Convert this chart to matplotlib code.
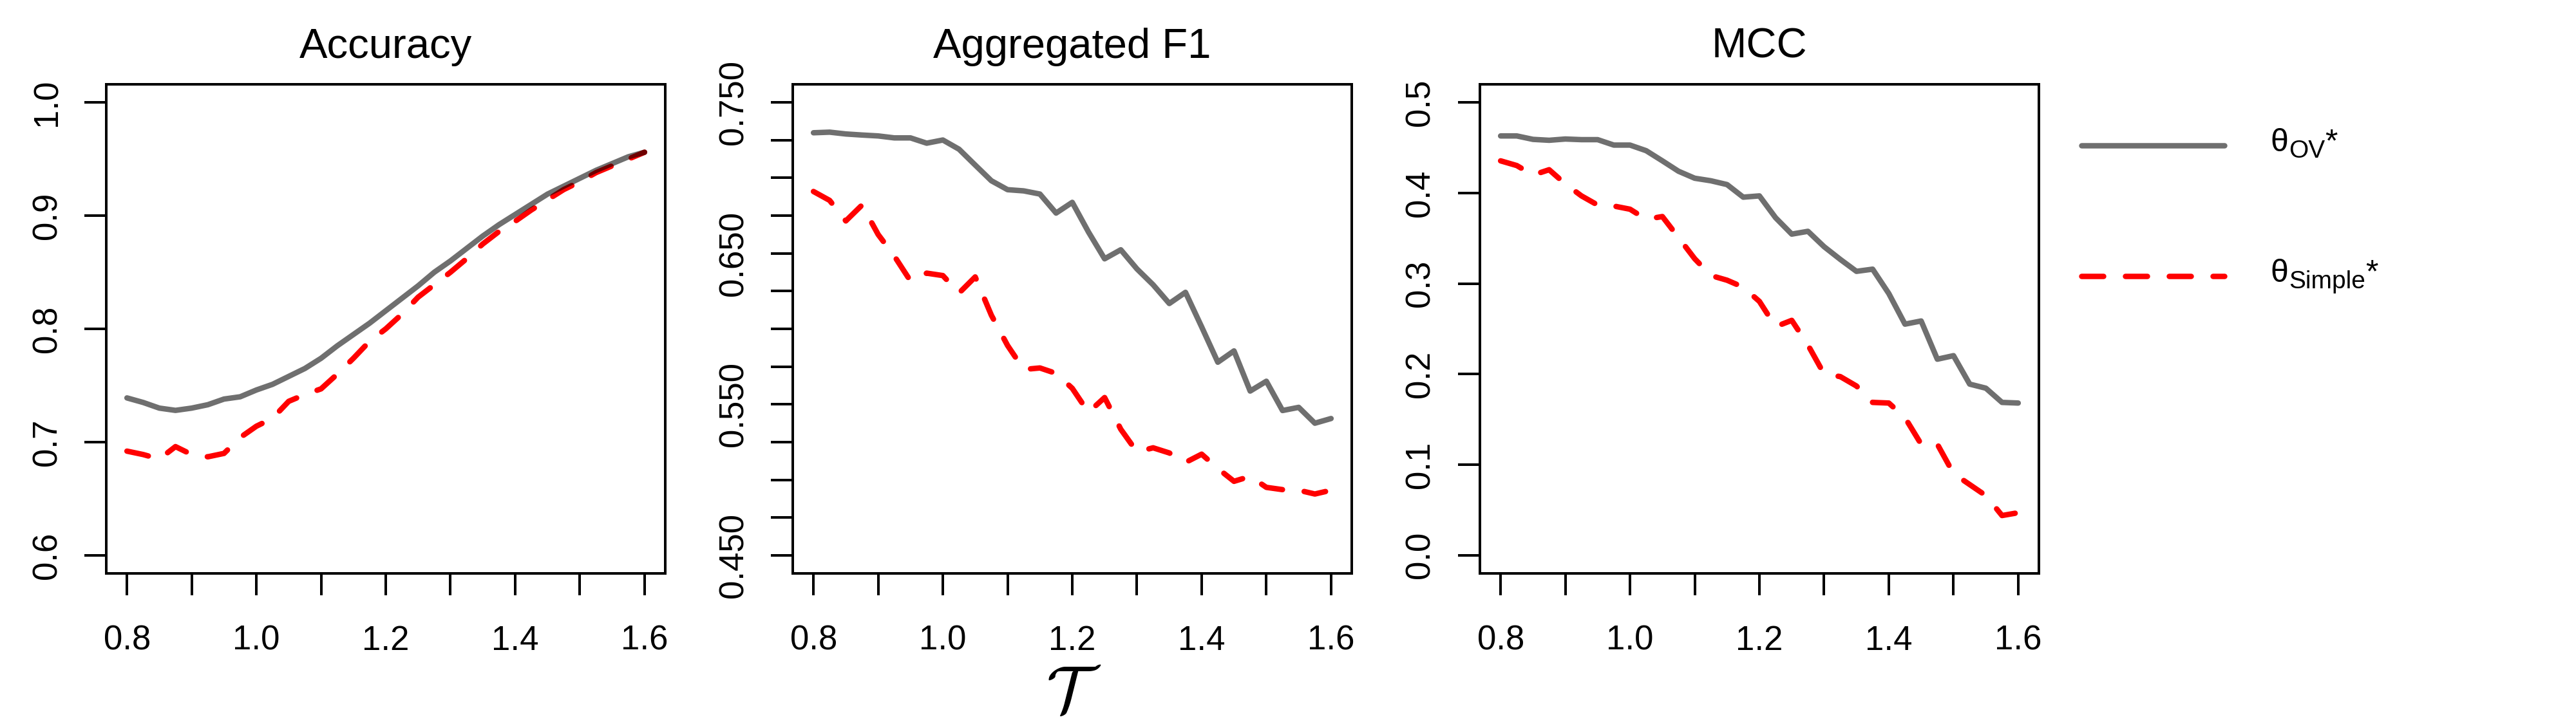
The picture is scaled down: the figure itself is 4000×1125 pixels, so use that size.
import matplotlib
matplotlib.use("Agg")
import matplotlib.pyplot as plt
from matplotlib.lines import Line2D
from matplotlib.ticker import FixedLocator

# ---------------- data ----------------
tau = [0.800, 0.825, 0.850, 0.875, 0.900, 0.925, 0.950, 0.975, 1.000, 1.025, 1.050,
       1.075, 1.100, 1.125, 1.150, 1.175, 1.200, 1.225, 1.250, 1.275, 1.300, 1.325,
       1.350, 1.375, 1.400, 1.425, 1.450, 1.475, 1.500, 1.525, 1.550, 1.575, 1.600]

acc_ov = [0.739, 0.735, 0.730, 0.728, 0.730, 0.733, 0.738, 0.740, 0.746, 0.751, 0.758,
          0.765, 0.774, 0.785, 0.795, 0.805, 0.816, 0.827, 0.838, 0.850, 0.860, 0.871,
          0.882, 0.892, 0.901, 0.910, 0.919, 0.926, 0.933, 0.940, 0.946, 0.952, 0.956]
acc_simple = [0.692, 0.689, 0.685, 0.696, 0.689, 0.687, 0.690, 0.704, 0.714, 0.721, 0.736,
              0.742, 0.747, 0.760, 0.774, 0.789, 0.800, 0.813, 0.828, 0.839, 0.850, 0.862,
              0.875, 0.886, 0.895, 0.905, 0.914, 0.923, 0.930, 0.938, 0.944, 0.950, 0.956]

f1_ov = [0.7299, 0.7303, 0.7291, 0.7284, 0.7278, 0.7265, 0.7265, 0.7230, 0.7251, 0.7190, 0.7085,
         0.6981, 0.6922, 0.6914, 0.6893, 0.6767, 0.6838, 0.6642, 0.6464, 0.6524, 0.6397, 0.6292,
         0.6168, 0.6242, 0.6013, 0.5779, 0.5854, 0.5588, 0.5653, 0.5459, 0.5480, 0.5375, 0.5406]
f1_simple = [0.6910, 0.6851, 0.6715, 0.6820, 0.6625, 0.6482, 0.6317, 0.6369, 0.6353, 0.6237, 0.6344,
             0.6090, 0.5890, 0.5731, 0.5741, 0.5705, 0.5606, 0.5447, 0.5545, 0.5335, 0.5185, 0.5212,
             0.5178, 0.5115, 0.5170, 0.5075, 0.4990, 0.5023, 0.4950, 0.4935, 0.4931, 0.4906, 0.4931]

mcc_ov = [0.4630, 0.4630, 0.4592, 0.4582, 0.4596, 0.4589, 0.4589, 0.4529, 0.4529, 0.4467, 0.4355,
          0.4240, 0.4163, 0.4135, 0.4093, 0.3954, 0.3968, 0.3727, 0.3546, 0.3577, 0.3407, 0.3267,
          0.3135, 0.3159, 0.2890, 0.2552, 0.2587, 0.2165, 0.2204, 0.1890, 0.1845, 0.1688, 0.1681]
mcc_simple = [0.4355, 0.4303, 0.4198, 0.4257, 0.4100, 0.3968, 0.3867, 0.3856, 0.3821, 0.3710, 0.3740,
              0.3508, 0.3274, 0.3089, 0.3037, 0.2960, 0.2803, 0.2524, 0.2594, 0.2322, 0.2001, 0.1973,
              0.1869, 0.1688, 0.1681, 0.1520, 0.1227, 0.1227, 0.0903, 0.0781, 0.0659, 0.0439, 0.0470]

titles = ["Accuracy", "Aggregated F1", "MCC"]
x_labeled = [0.8, 1.0, 1.2, 1.4, 1.6]
x_unlabeled = [0.9, 1.1, 1.3, 1.5]
y_labeled = [[0.6, 0.7, 0.8, 0.9, 1.0],
             [0.45, 0.55, 0.65, 0.75],
             [0.0, 0.1, 0.2, 0.3, 0.4, 0.5]]
y_unlabeled = [[],
               [0.475, 0.5, 0.525, 0.575, 0.6, 0.625, 0.675, 0.7, 0.725],
               []]
y_fmt = ["{:.1f}", "{:.3f}", "{:.1f}"]
y_range = [(0.6, 1.0), (0.45, 0.75), (0.0, 0.5)]
legend_subscripts = ["OV", "Simple"]
x_symbol = r"$\mathcal{T}$"

# ---------------- style ----------------
plt.rcParams["font.family"] = ["Liberation Sans", "DejaVu Sans"]
plt.rcParams["mathtext.fontset"] = "custom"
plt.rcParams["mathtext.rm"] = "Liberation Sans"
plt.rcParams["mathtext.it"] = "Liberation Sans:italic"
plt.rcParams["mathtext.bf"] = "Liberation Sans:bold"

W, H, DPI = 4000, 1125, 100


def pt(p):
    return p * 72.0 / DPI


GRAY = (0, 0, 0, 0.565)
RED = "#FF0000"
LW = pt(8.5)

fig = plt.figure(figsize=(W / DPI, H / DPI), dpi=DPI)
fig.patch.set_facecolor("white")

lefts = [165, 1231, 2298]
ax_w, ax_top, ax_bot = 868, 131, 891
series = [(acc_ov, acc_simple), (f1_ov, f1_simple), (mcc_ov, mcc_simple)]

for i in range(3):
    ax = fig.add_axes([lefts[i] / W, (H - ax_bot) / H, ax_w / W, (ax_bot - ax_top) / H])
    ov, simple = series[i]
    ax.plot(tau, simple, color=RED, lw=LW, linestyle=(0, (4, 4)),
            dash_capstyle="round", dash_joinstyle="round")
    ax.plot(tau, ov, color=GRAY, lw=LW, solid_capstyle="round", solid_joinstyle="round")

    lo, hi = y_range[i]
    pad = 0.04 * (hi - lo)
    ax.set_ylim(lo - pad, hi + pad)
    ax.set_xlim(0.8 - 0.032, 1.6 + 0.032)

    ax.xaxis.set_major_locator(FixedLocator(x_labeled))
    ax.xaxis.set_minor_locator(FixedLocator(x_unlabeled))
    ax.set_xticklabels(["{:.1f}".format(v) for v in x_labeled])
    ax.yaxis.set_major_locator(FixedLocator(y_labeled[i]))
    ax.yaxis.set_minor_locator(FixedLocator(y_unlabeled[i]))
    ax.set_yticklabels([y_fmt[i].format(v) for v in y_labeled[i]])

    ax.tick_params(which="both", direction="out", length=pt(34), width=pt(4), color="black")
    ax.tick_params(axis="x", which="major", labelsize=38, pad=pt(46))
    ax.tick_params(axis="y", which="major", labelsize=38, pad=pt(33), labelrotation=90)
    for lab in ax.get_yticklabels():
        lab.set_va("center")
    for s in ax.spines.values():
        s.set_linewidth(pt(4))
        s.set_color("black")
    ax.text(0.5, 1 + 41 / (ax_bot - ax_top), titles[i], transform=ax.transAxes,
            ha="center", va="baseline", fontsize=47)

fig.canvas.draw()
rend = fig.canvas.get_renderer()

# x-axis symbol (calligraphic T), sized and centred on target box
t_sym = fig.text(0.5, 0.05, x_symbol, math_fontfamily="cm", fontsize=85,
                 ha="center", va="center")
bb = t_sym.get_window_extent(rend)
t_sym.set_fontsize(85 * 95.0 / bb.height)
bb = t_sym.get_window_extent(rend)
cx, cy = 1667, H - 1080
x0, y0 = t_sym.get_position()
t_sym.set_position((x0 + (cx - (bb.x0 + bb.x1) / 2) / W, y0 + (cy - (bb.y0 + bb.y1) / 2) / H))

# legend
leg_y = [226, 429]
styles = [dict(color=GRAY, linestyle="-", solid_capstyle="round"),
          dict(color=RED, linestyle=(0, (4, 4)), dash_capstyle="round")]
for k in range(2):
    yy = 1 - leg_y[k] / H
    fig.add_artist(Line2D([3232 / W, 3454 / W], [yy, yy], transform=fig.transFigure,
                          lw=LW, **styles[k]))
    base = leg_y[k] + 9          # baseline of theta, px from top
    t1 = fig.text(3525 / W, 1 - base / H, "\u03b8", fontsize=36, ha="left", va="baseline")
    b1 = t1.get_window_extent(rend)
    t2 = fig.text((b1.x1 + 1) / W, 1 - (base + 10) / H, legend_subscripts[k], fontsize=28,
                  ha="left", va="baseline")
    b2 = t2.get_window_extent(rend)
    fig.text((b2.x1 + 0) / W, 1 - base / H, "*", fontsize=36, ha="left", va="baseline")

fig.savefig("out.png", dpi=DPI, facecolor="white")
